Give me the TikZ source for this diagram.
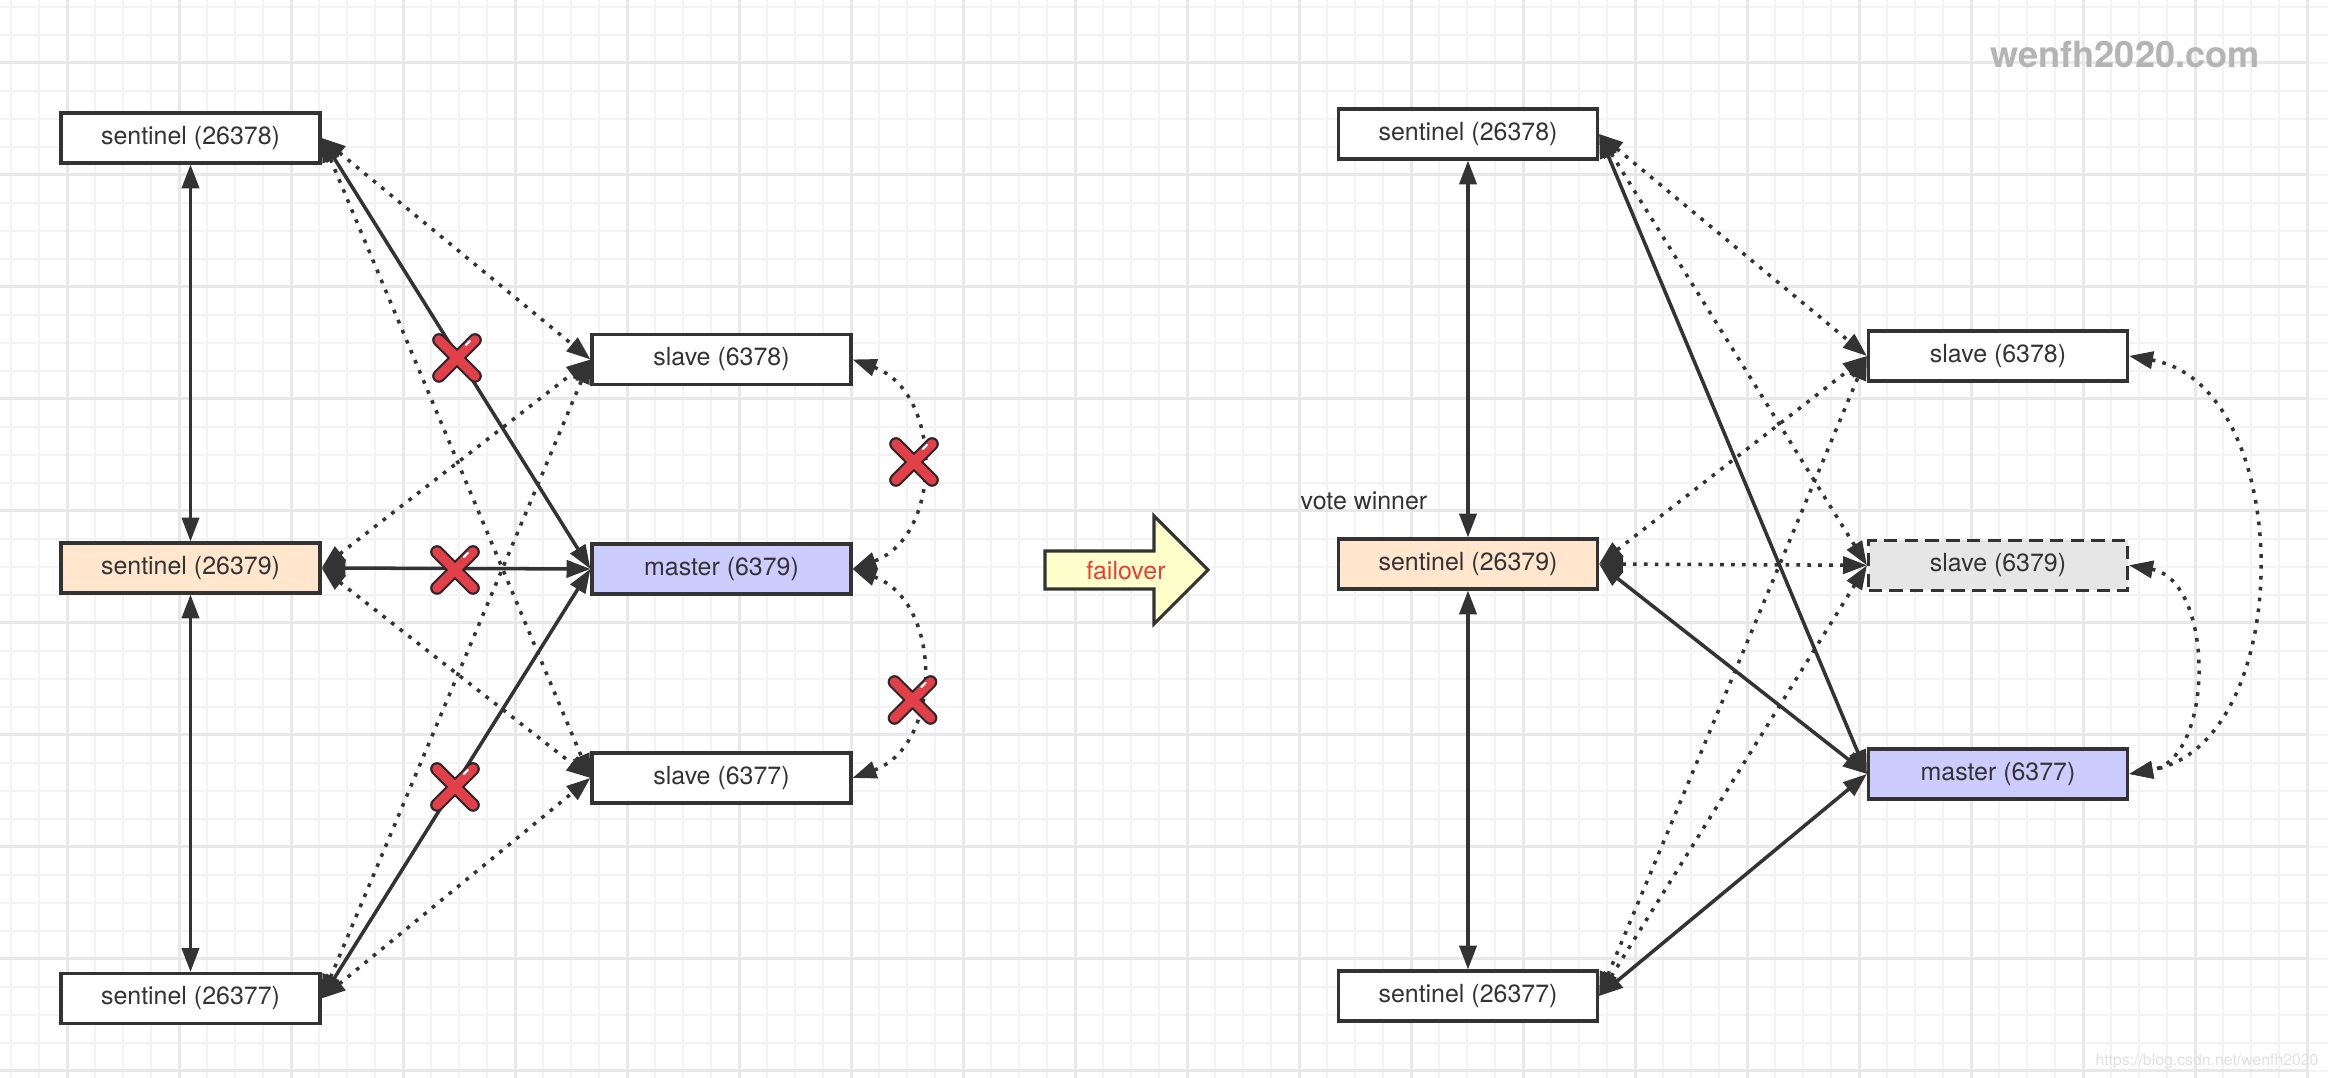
\documentclass[tikz,border=0pt]{standalone}
\usepackage{fontspec}
\setmainfont{TeX Gyre Heros}
\usetikzlibrary{arrows.meta}
\definecolor{ink}{RGB}{51,51,51}
\definecolor{gridminor}{RGB}{243,243,243}
\definecolor{gridmajor}{RGB}{232,232,232}
\definecolor{peach}{RGB}{255,230,204}
\definecolor{lilac}{RGB}{204,204,255}
\definecolor{ash}{RGB}{230,230,230}
\definecolor{cream}{RGB}{255,255,204}
\definecolor{alarm}{RGB}{234,62,58}
\definecolor{crossred}{RGB}{225,64,72}
\definecolor{crossink}{RGB}{45,38,42}
\definecolor{mark}{RGB}{180,180,180}
\definecolor{faint}{RGB}{224,224,224}

\begin{document}
\begin{tikzpicture}[>={Triangle[length=6.8pt,width=4.9pt]}, font=\fontsize{7.1pt}{8.5pt}\selectfont,
        redx/.pic={
                \draw [crossink, line width=3.9pt, line cap=round] (-0.18,0.18) -- (0.18,-0.18) (-0.18,-0.18) -- (0.18,0.18);
                \draw [crossred, line width=2.7pt, line cap=round] (-0.18,0.18) -- (0.18,-0.18) (-0.18,-0.18) -- (0.18,0.18);
                \draw [white, line width=0.6pt, line cap=round] (0.088,0.128) -- (0.13,0.17);
        }]
        \tikzstyle{box}=[draw=ink, line width=0.9pt, fill=white, text=ink, minimum width=2.59cm, minimum height=0.5cm, inner sep=0pt]
        \tikzstyle{link}=[draw=ink, line width=1pt, <->]
        \tikzstyle{dotlink}=[link, line width=1pt, dash pattern=on 1.05pt off 2.05pt]
        \useasboundingbox (0,0) rectangle (23.28,-10.78);
        \fill [white] (0,0) rectangle (23.28,-10.78);
        \begin{scope}
        \clip (0,0) rectangle (23.28,-10.78);
        \draw [gridminor, line width=0.6pt, step=0.28, xshift=0.113cm, yshift=-0.067cm] (-0.28,-11.2) grid (23.52,0.28);
        \draw [gridmajor, line width=0.85pt, step=1.12, xshift=0.673cm, yshift=-0.627cm] (-1.12,-11.2) grid (22.4,1.12);
        \end{scope}
        \node [box] (s78L) at (1.905,-1.38) {sentinel (26378)};
        \node [box, fill=peach] (s79L) at (1.905,-5.68) {sentinel (26379)};
        \node [box] (s77L) at (1.905,-9.985) {sentinel (26377)};
        \node [box] (sl78L) at (7.215,-3.595) {slave (6378)};
        \node [box, fill=lilac] (m79L) at (7.215,-5.69) {master (6379)};
        \node [box] (sl77L) at (7.215,-7.78) {slave (6377)};
        \node [box] (s78R) at (14.68,-1.34) {sentinel (26378)};
        \node [box, fill=peach] (s79R) at (14.68,-5.64) {sentinel (26379)};
        \node [box] (s77R) at (14.68,-9.96) {sentinel (26377)};
        \node [box] (sl78R) at (19.98,-3.56) {slave (6378)};
        \node [box, fill=ash, dash pattern=on 3.8pt off 2.1pt] (sl79R) at (19.98,-5.653) {slave (6379)};
        \node [box, fill=lilac] (m77R) at (19.98,-7.74) {master (6377)};
        \draw [link] (s78L) -- (s79L);
        \draw [link] (s79L) -- (s77L);
        \draw [link] (s78L.east) -- (m79L.west);
        \draw [link] (s79L.east) -- (m79L.west);
        \draw [link] (s77L.east) -- (m79L.west);
        \draw [dotlink] (s78L.east) -- (sl78L.west);
        \draw [dotlink] (s78L.east) -- (sl77L.west);
        \draw [dotlink] (s79L.east) -- (sl78L.west);
        \draw [dotlink] (s79L.east) -- (sl77L.west);
        \draw [dotlink] (s77L.east) -- (sl78L.west);
        \draw [dotlink] (s77L.east) -- (sl77L.west);
        \draw [dotlink] (sl78L.east) to [out=-20, in=20, looseness=1.18] (m79L.east);
        \draw [dotlink] (m79L.east) to [out=-20, in=20, looseness=1.18] (sl77L.east);
        \draw [link] (s78R) -- (s79R);
        \draw [link] (s79R) -- (s77R);
        \draw [link] (s78R.east) -- (m77R.west);
        \draw [link] (s79R.east) -- (m77R.west);
        \draw [link] (s77R.east) -- (m77R.west);
        \draw [dotlink] (s78R.east) -- (sl78R.west);
        \draw [dotlink] (s78R.east) -- (sl79R.west);
        \draw [dotlink] (s79R.east) -- (sl78R.west);
        \draw [dotlink] (s79R.east) -- (sl79R.west);
        \draw [dotlink] (s77R.east) -- (sl78R.west);
        \draw [dotlink] (s77R.east) -- (sl79R.west);
        \draw [dotlink] (sl78R.east) to [out=-10, in=10, looseness=1.05] (m77R.east);
        \draw [dotlink] (sl79R.east) to [out=-10, in=10, looseness=1.07] (m77R.east);
        \pic at (4.57,-3.58) {redx};
        \pic at (4.55,-5.70) {redx};
        \pic at (4.55,-7.87) {redx};
        \pic at (9.14,-4.62) {redx};
        \pic at (9.125,-7.00) {redx};
        \draw [ink, fill=cream, line width=0.9pt] (10.45,-5.51) -- (11.54,-5.51) -- (11.54,-5.16) -- (12.08,-5.70) -- (11.54,-6.24) -- (11.54,-5.89) -- (10.45,-5.89) -- cycle;
        \node [text=alarm] (fail) at (11.26,-5.71) {failover};
        \node [text=ink, anchor=base west, inner sep=0pt] (vote) at (13.0,-5.095) {vote winner};
        \node [text=mark, font=\bfseries\fontsize{10.3pt}{12pt}\selectfont, anchor=base] (site) at (21.25,-0.68) {wenfh2020.com};
        \node [text=faint, font=\fontsize{4.5pt}{5.4pt}\selectfont, anchor=base] (csdn) at (22.07,-10.66) {https://blog.csdn.net/wenfh2020};
\end{tikzpicture}
\end{document}
